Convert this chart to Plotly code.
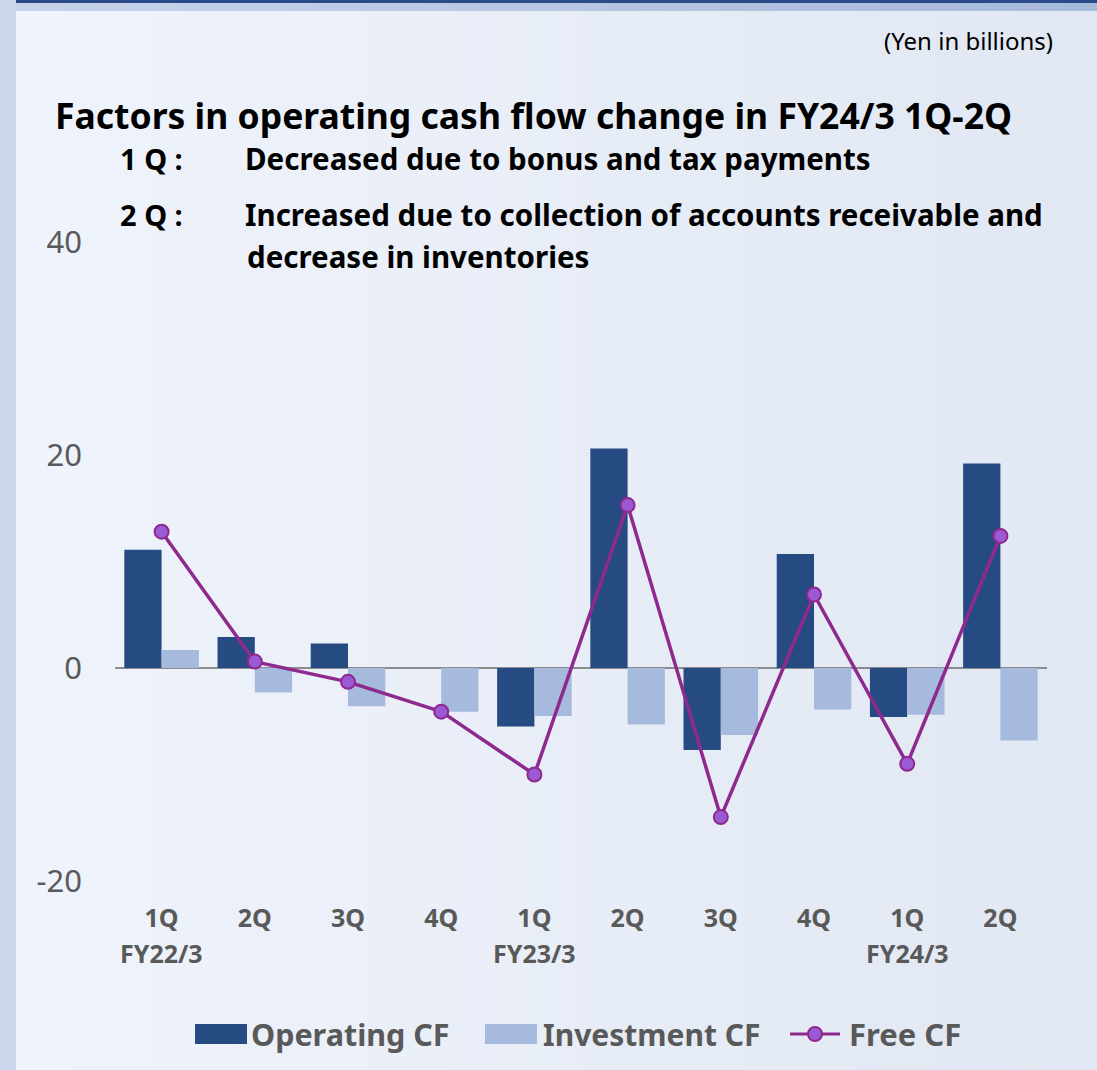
import plotly.graph_objects as go

categories = ["FY22/3 1Q", "FY22/3 2Q", "FY22/3 3Q", "FY22/3 4Q",
              "FY23/3 1Q", "FY23/3 2Q", "FY23/3 3Q", "FY23/3 4Q",
              "FY24/3 1Q", "FY24/3 2Q"]
quarter_labels = ["1Q", "2Q", "3Q", "4Q", "1Q", "2Q", "3Q", "4Q", "1Q", "2Q"]
fy_labels = {"FY22/3 1Q": "FY22/3", "FY23/3 1Q": "FY23/3", "FY24/3 1Q": "FY24/3"}
y_ticks = [-20, 0, 20, 40]
y_tick_text = ["-20", "0", "20", "40"]

operating_cf = [11.1, 2.9, 2.3, 0.0, -5.5, 20.6, -7.7, 10.7, -4.6, 19.2]
investment_cf = [1.7, -2.3, -3.6, -4.1, -4.5, -5.3, -6.3, -3.9, -4.4, -6.8]
free_cf = [12.8, 0.6, -1.3, -4.1, -10.0, 15.3, -14.0, 6.9, -9.0, 12.4]

C_OP = "#264a82"
C_INV = "#a6badd"
C_FREE = "#8e2a8e"
C_FREE_FILL = "#9b59d3"
GRAY = "#595959"
FONT = "Noto Sans"

W, H = 1097, 1070
ML, MR, MT, MB = 115, 50, 242, 189

fig = go.Figure()
fig.add_trace(go.Bar(x=categories, y=operating_cf, name="Operating CF",
                     marker=dict(color=C_OP, line=dict(width=0)), showlegend=False))
fig.add_trace(go.Bar(x=categories, y=investment_cf, name="Investment CF",
                     marker=dict(color=C_INV, line=dict(width=0)), showlegend=False))
fig.add_trace(go.Scatter(x=categories, y=free_cf, name="Free CF", mode="lines+markers",
                         line=dict(color=C_FREE, width=3.5),
                         marker=dict(size=14, color=C_FREE_FILL, line=dict(color=C_FREE, width=2)),
                         showlegend=False))


def px_x(x):
    return (x - ML) / (W - ML - MR)


def px_y(y):
    return (H - MB - y) / (H - MT - MB)


def lerp_color(c0, c1, t):
    a = [int(c0[i:i + 2], 16) for i in (1, 3, 5)]
    b = [int(c1[i:i + 2], 16) for i in (1, 3, 5)]
    return "#" + "".join("%02x" % round(a[k] + (b[k] - a[k]) * t) for k in range(3))


shapes = []
# background gradient strips
N = 40
x_start = 16
for i in range(N):
    x0 = x_start + (W - x_start) * i / N
    x1 = x_start + (W - x_start) * (i + 1) / N + 1
    shapes.append(dict(type="rect", xref="paper", yref="paper", x0=px_x(x0), x1=px_x(x1),
                       y0=px_y(H), y1=px_y(0), fillcolor=lerp_color("#eff3fb", "#e1e8f3", i / (N - 1)),
                       line=dict(width=0), layer="below"))
for i in range(N):
    x0 = x_start + (W - x_start) * i / N
    x1 = x_start + (W - x_start) * (i + 1) / N + 1
    shapes.append(dict(type="rect", xref="paper", yref="paper", x0=px_x(x0), x1=px_x(x1),
                       y0=px_y(11), y1=px_y(0), fillcolor=lerp_color("#c6d3ea", "#a6badc", i / (N - 1)),
                       line=dict(width=0), layer="below"))
shapes += [
    dict(type="rect", xref="paper", yref="paper", x0=px_x(16), x1=px_x(W), y0=px_y(3), y1=px_y(0),
         fillcolor="#2a4a88", line=dict(width=0), layer="below"),
    dict(type="rect", xref="paper", yref="paper", x0=px_x(0), x1=px_x(16), y0=px_y(H), y1=px_y(0),
         fillcolor="#c9d6eb", line=dict(width=0), layer="below"),
    # legend symbols
    dict(type="rect", xref="paper", yref="paper", x0=px_x(195), x1=px_x(247), y0=px_y(1044), y1=px_y(1024),
         fillcolor=C_OP, line=dict(width=0)),
    dict(type="rect", xref="paper", yref="paper", x0=px_x(485), x1=px_x(537), y0=px_y(1044), y1=px_y(1024),
         fillcolor=C_INV, line=dict(width=0)),
    dict(type="line", xref="paper", yref="paper", x0=px_x(790), x1=px_x(840), y0=px_y(1034), y1=px_y(1034),
         line=dict(color=C_FREE, width=3)),
    dict(type="circle", xref="paper", yref="paper", x0=px_x(808), x1=px_x(822), y0=px_y(1041), y1=px_y(1027),
         fillcolor=C_FREE_FILL, line=dict(color=C_FREE, width=2)),
]


def text_ann(text, x, y, size, color="#000000", anchor="left"):
    return dict(text=text, x=px_x(x), y=px_y(y), xref="paper", yref="paper",
                xanchor=anchor, yanchor="middle", showarrow=False,
                font=dict(family=FONT, size=size, color=color))


annotations = [
    text_ann("(Yen in billions)", 1055, 40, 24, anchor="right"),
    text_ann("<b>Factors in operating cash flow change in FY24/3 1Q-2Q</b>", 53, 115, 35.5),
    text_ann("<b>1 Q :</b>", 118, 159, 29),
    text_ann("<b>Decreased due to bonus and tax payments</b>", 243, 159, 29.5),
    text_ann("<b>2 Q :</b>", 118, 214, 29),
    text_ann("<b>Increased due to collection of accounts receivable and</b>", 243, 214, 29.5),
    text_ann("<b>decrease in inventories</b>", 245, 256, 29.5),
    # legend text
    text_ann("<b>Operating CF</b>", 249, 1034, 30.5, GRAY),
    text_ann("<b>Investment CF</b>", 541, 1034, 30, GRAY),
    text_ann("<b>Free CF</b>", 847, 1034, 31, GRAY),
]
for cat, lab in fy_labels.items():
    annotations.append(dict(text="<b>" + lab + "</b>", x=cat, y=px_y(953), xref="x", yref="paper",
                            xanchor="center", yanchor="middle", showarrow=False,
                            font=dict(family=FONT, size=25, color=GRAY)))

fig.update_layout(
    width=W, height=H,
    margin=dict(l=ML, r=MR, t=MT, b=MB, pad=0),
    paper_bgcolor="#ebf0f8", plot_bgcolor="rgba(0,0,0,0)",
    barmode="group", bargap=0.2, bargroupgap=0,
    showlegend=False,
    font=dict(family=FONT, color=GRAY),
    xaxis=dict(type="category", range=[-0.5, len(categories) - 0.5], autorange=False,
               tickmode="array", tickvals=categories, ticktext=quarter_labels,
               showgrid=False, showline=False, zeroline=False, ticks="",
               tickfont=dict(family=FONT, size=25, color=GRAY, weight="bold"),
               ticklabelstandoff=20),
    yaxis=dict(range=[-20, 40], autorange=False, tickmode="array", tickvals=y_ticks, ticktext=y_tick_text,
               showgrid=False, showline=False,
               zeroline=True, zerolinecolor="#8c8c8c", zerolinewidth=2, ticks="",
               tickfont=dict(family=FONT, size=31, color=GRAY), ticklabelstandoff=32),
    shapes=shapes, annotations=annotations,
)

fig.write_html("out.html", config={"displayModeBar": False},
               post_script="document.body.style.margin='0';")
